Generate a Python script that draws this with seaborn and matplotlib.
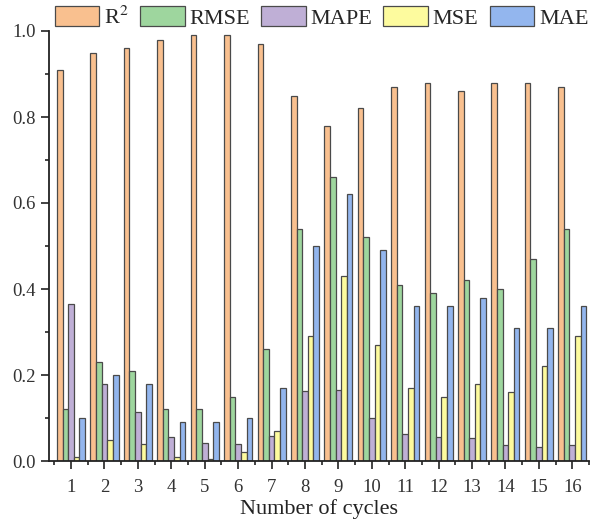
import numpy as np
import pandas as pd
import matplotlib
matplotlib.use("Agg")
import matplotlib.pyplot as plt
from matplotlib.ticker import MultipleLocator, FixedLocator
import seaborn as sns

cycles = [str(i) for i in range(1, 17)]
r2 = [0.91, 0.95, 0.96, 0.98, 0.99, 0.99, 0.97, 0.85, 0.78, 0.82, 0.87, 0.88, 0.86, 0.88, 0.88, 0.87]
rmse = [0.12, 0.23, 0.21, 0.12, 0.12, 0.15, 0.26, 0.54, 0.66, 0.52, 0.41, 0.39, 0.42, 0.40, 0.47, 0.54]
mape = [0.365, 0.178, 0.113, 0.055, 0.043, 0.040, 0.057, 0.163, 0.165, 0.100, 0.063, 0.055, 0.053, 0.038, 0.033, 0.038]
mse = [0.010, 0.050, 0.040, 0.010, 0.005, 0.020, 0.070, 0.29, 0.43, 0.27, 0.17, 0.15, 0.18, 0.16, 0.22, 0.29]
mae = [0.10, 0.20, 0.18, 0.09, 0.09, 0.10, 0.17, 0.50, 0.62, 0.49, 0.36, 0.36, 0.38, 0.31, 0.31, 0.36]
metrics = ["R$^2$", "RMSE", "MAPE", "MSE", "MAE"]
colors = ["#F9C08F", "#9ED69E", "#BFAFD6", "#FDFB9E", "#93B6EE"]

rows = []
for name, vals in zip(metrics, [r2, rmse, mape, mse, mae]):
    for c, v in zip(cycles, vals):
        rows.append({"cycle": c, "metric": name, "value": v})
df = pd.DataFrame(rows)

sns.set_theme(style="ticks")
plt.rcParams["font.family"] = ["Liberation Serif", "DejaVu Serif"]
plt.rcParams["mathtext.fontset"] = "stix"

fig = plt.figure(figsize=(5.94, 5.21), dpi=100)
ax = fig.add_axes([49/594, 1-461/521, 540/594, 430/521])

sns.barplot(data=df, x="cycle", y="value", hue="metric", order=cycles,
            hue_order=metrics, palette=colors, width=0.84,
            edgecolor="#4a4a4a", linewidth=0.9, ax=ax, saturation=1)

ax.set_xlim(-0.66, 15.5)
ax.set_ylim(0, 1.0)
ax.yaxis.set_major_locator(MultipleLocator(0.2))
ax.yaxis.set_minor_locator(MultipleLocator(0.1))
ax.set_yticklabels([f"{v:.1f}" for v in ax.get_yticks()])
ax.xaxis.set_minor_locator(FixedLocator(np.arange(-0.5, 16, 1)))
ax.tick_params(axis="both", which="major", direction="out", length=6, width=1.2,
               labelsize=13.5, color="#222222", labelcolor="#333333")
ax.tick_params(axis="x", which="major", pad=7)
ax.tick_params(axis="both", which="minor", direction="out", length=3, width=1.2,
               color="#222222")
for s in ["top", "right"]:
    ax.spines[s].set_visible(False)
for s in ["left", "bottom"]:
    ax.spines[s].set_linewidth(1.3)
    ax.spines[s].set_color("#222222")
ax.set_xlabel("Number of cycles", fontsize=16, labelpad=2, color="#222222")
ax.set_ylabel("")

handles, labels = ax.get_legend_handles_labels()
ax.get_legend().remove()
fig.legend(handles, labels, loc="center left", bbox_to_anchor=(55/594, 1-17.5/521),
           ncol=5, frameon=False, fontsize=16, handlelength=2.0, handleheight=0.95,
           columnspacing=0.5, handletextpad=0.22, borderaxespad=0, borderpad=0)

fig.savefig("out.png", dpi=100)
